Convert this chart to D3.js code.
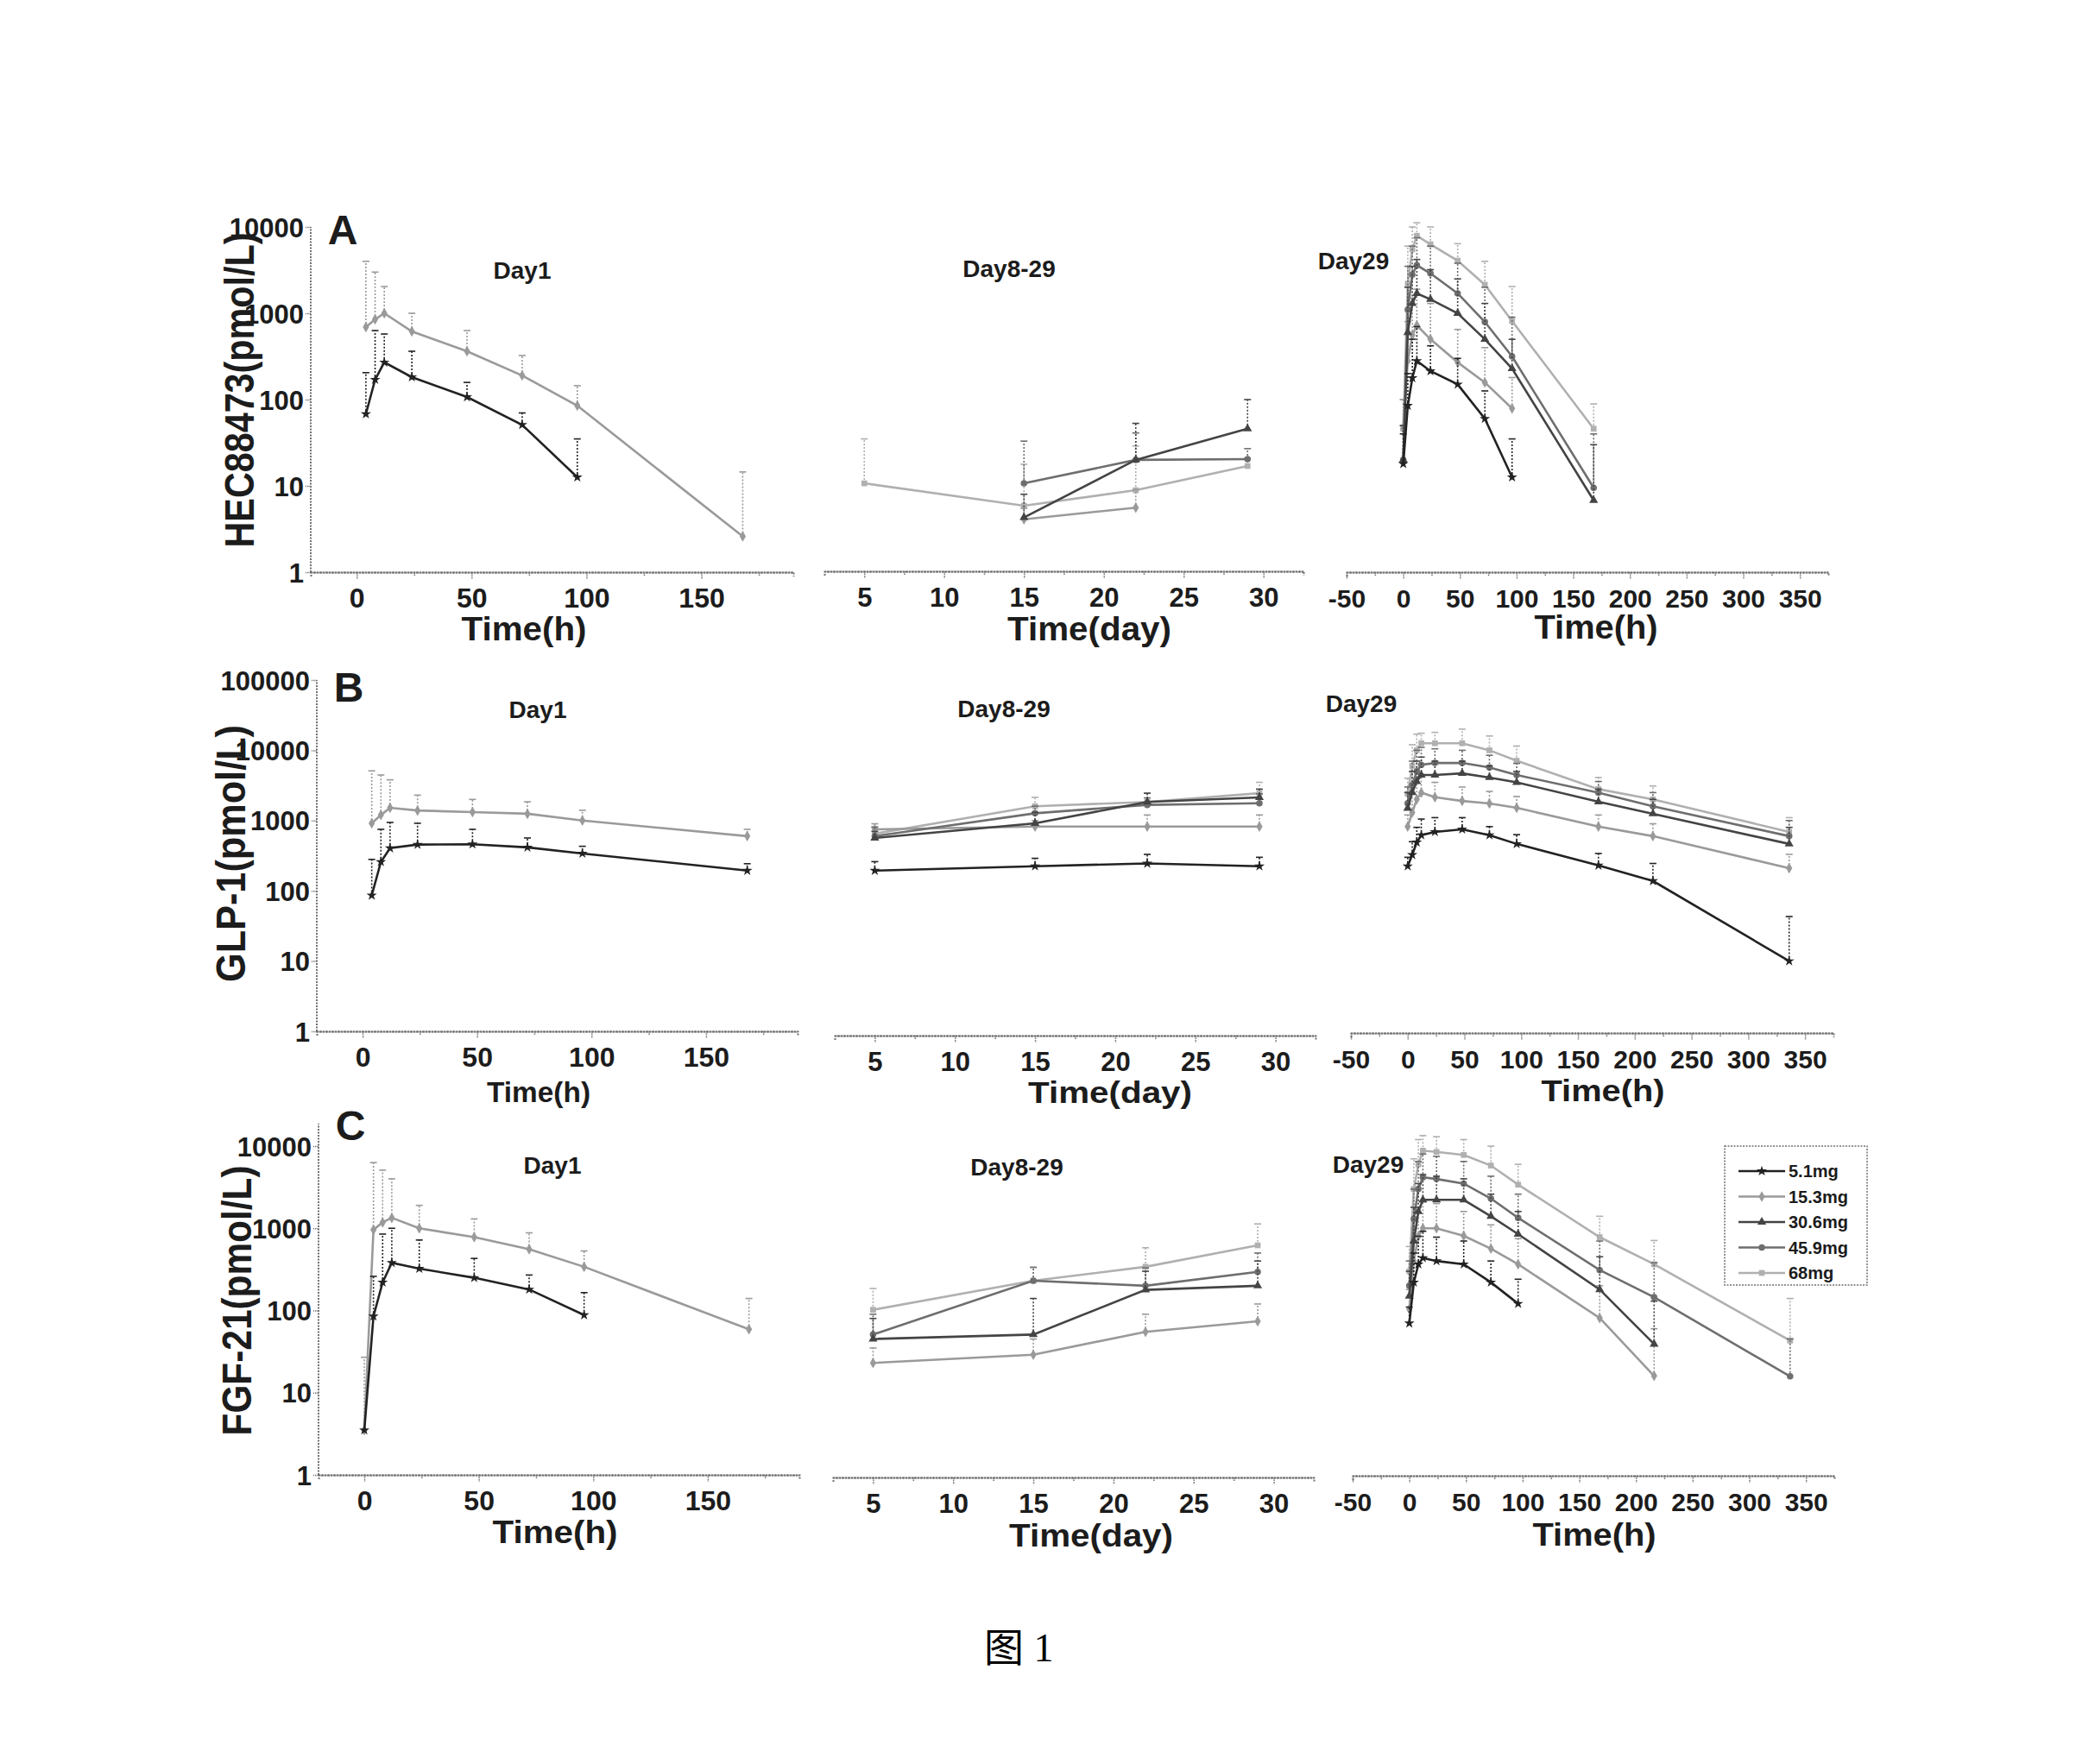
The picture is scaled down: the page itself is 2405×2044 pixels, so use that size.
<!DOCTYPE html>
<html>
<head>
<meta charset="utf-8">
<script src="https://cdn.jsdelivr.net/npm/d3@7"></script>
<style>
  body { margin: 0; background: #fff; }
  text { font-family: "Liberation Sans", Arial, sans-serif; font-weight: bold; }
</style>
</head>
<body>
<script>
// doses (legend) and sampling times
var doses = ["5.1mg", "15.3mg", "30.6mg", "45.9mg", "68mg"];
var day1TimesAB = [4, 8, 12, 24, 48, 72, 96, 168];
var day1TimesC = [0, 4, 8, 12, 24, 48, 72, 96, 168];
var midDays = [5, 15, 22, 29];
var day29TimesA = [0, 4, 8, 12, 24, 48, 72, 96, 168];
var day29TimesBC = [0, 4, 8, 12, 24, 48, 72, 96, 168, 216, 336];

// tick labels
var day1Ticks = [0, 50, 100, 150];
var midTicks = [5, 10, 15, 20, 25, 30];
var day29Ticks = [-50, 0, 50, 100, 150, 200, 250, 300, 350];
var yTicksA = [1, 10, 100, 1000, 10000];
var yTicksB = [1, 10, 100, 1000, 10000, 100000];
var yTicksC = [1, 10, 100, 1000, 10000];

// A: HEC88473 — one row per dose (5.1, 15.3, 30.6, 45.9, 68), null = not shown
var hecDay1Mean = [
  [68, 170, 270, 182, 107, 51, 12.6, null],
  [690, 850, 1000, 617, 363, 190, 85, 2.6],
  null, null, null];
var hecDay1Upper = [
  [205, 630, 575, 363, 158, 70, 35, null],
  [4000, 3000, 2040, 1000, 630, 324, 145, 14.5],
  null, null, null];
var hecMidMean = [
  null,
  [null, 4.1, 5.6, null],
  [null, 4.3, 20, 46],
  [null, 10.7, 20, 20.4],
  [10.7, 5.9, 8.9, 17]];
var hecMidUpper = [
  null,
  [null, 5.5, 9, null],
  [null, 8, 53, 100],
  [null, 33, 41, 27],
  [35, 17.8, 29, 21]];
var hecDay29Mean = [
  [18, 85, 178, 280, 214, 150, 60, 12.6, null],
  [46, 280, 560, 724, 500, 270, 158, 79, null],
  [20, 600, 1300, 1700, 1450, 1000, 500, 229, 6.8],
  [20, 1100, 2800, 3600, 2900, 1700, 794, 316, 9.5],
  [46, 2200, 5500, 7900, 6300, 4070, 2140, 813, 46]];
var hecDay29Upper = [
  [40, 200, 500, 700, 420, 300, 126, 35, null],
  [100, 800, 1500, 1900, 1300, 650, 400, 180, null],
  [50, 2000, 3500, 4200, 3200, 2500, 1300, 500, 30],
  [50, 3500, 6000, 7500, 6000, 3800, 2000, 900, 40],
  [100, 6000, 10000, 11200, 10000, 6400, 4000, 2040, 89]];

// B: GLP-1
var glpDay1Mean = [
  [86, 258, 405, 455, 460, 415, 340, 194],
  [915, 1200, 1520, 1390, 1320, 1250, 1000, 600],
  null, null, null];
var glpDay1Upper = [
  [280, 750, 940, 915, 750, 565, 430, 243],
  [5100, 4450, 3800, 2300, 2000, 1850, 1400, 750],
  null, null, null];
var glpMidMean = [
  [194, 224, 245, 224],
  [750, 820, 820, 820],
  [565, 915, 1840, 2130],
  [600, 1270, 1670, 1760],
  [650, 1600, 1840, 2450]];
var glpMidUpper = [
  [260, 290, 330, 300],
  [900, 1000, 1200, 1200],
  [700, 1300, 2450, 2800],
  [800, 1600, 2100, 2400],
  [820, 2140, 2450, 3500]];
var glpDay29Mean = [
  [224, 325, 490, 620, 690, 750, 620, 465, 230, 138, 10],
  [820, 1300, 2000, 2500, 2150, 1900, 1750, 1520, 820, 600, 210],
  [1500, 2500, 3600, 4450, 4450, 4700, 4100, 3500, 1850, 1250, 465],
  [1760, 3200, 5000, 6200, 6600, 6600, 5700, 4450, 2500, 1600, 600],
  [2400, 6000, 10000, 12600, 12600, 12600, 10000, 7100, 2800, 2000, 690]];
var glpDay29Upper = [
  [300, 500, 800, 1050, 1100, 1100, 820, 630, 340, 245, 43],
  [1200, 2500, 4000, 4500, 3500, 3000, 2600, 2200, 1200, 900, 330],
  [2500, 5000, 7000, 8000, 7000, 7000, 6000, 5000, 2800, 2000, 800],
  [3000, 7000, 10000, 11000, 10500, 10000, 8500, 6500, 3600, 2500, 1000],
  [4000, 12000, 17000, 17500, 18000, 20000, 16000, 11500, 4100, 3100, 1100]];

// C: FGF-21
var fgfDay1Mean = [
  [3.5, 85, 220, 380, 323, 250, 180, 88, null],
  [3.5, 960, 1180, 1340, 1000, 780, 556, 340, 59],
  null, null, null];
var fgfDay1Upper = [
  [3.5, 260, 850, 1000, 720, 430, 270, 165, null],
  [27, 6300, 5100, 4000, 1900, 1300, 880, 530, 140],
  null, null, null];
var fgfMidMean = [
  null,
  [23, 29, 55, 74],
  [45, 51, 178, 200],
  [51, 230, 200, 295],
  [102, 230, 340, 620]];
var fgfMidUpper = [
  null,
  [35, 45, 90, 120],
  [80, 140, 300, 400],
  [90, 335, 330, 500],
  [185, 335, 580, 1130]];
var fgfDay29Mean = [
  [70, 220, 365, 435, 400, 365, 220, 121, null, null, null],
  [104, 400, 800, 1000, 1000, 810, 565, 365, 81, 16, null],
  [150, 700, 1600, 2220, 2220, 2220, 1400, 850, 180, 39, null],
  [200, 1300, 3000, 4170, 3980, 3500, 2300, 1340, 310, 145, 15.8],
  [300, 3000, 6000, 8800, 8500, 7800, 5800, 3400, 780, 365, 43]];
var fgfDay29Upper = [
  [110, 500, 800, 920, 780, 700, 400, 240, null, null, null],
  [180, 1000, 1800, 2100, 2000, 1600, 1100, 750, 200, 60, null],
  [300, 1800, 3500, 4500, 4300, 4000, 2600, 1600, 450, 130, null],
  [400, 3000, 6500, 8000, 7500, 6500, 4300, 2600, 700, 380, 45],
  [600, 7000, 12000, 13400, 13000, 12000, 10000, 6000, 1400, 710, 140]];

// styles
var doseColors = ["#222222", "#9a9a9a", "#444444", "#6e6e6e", "#b0b0b0"];
var doseSymbols = [d3.symbolStar, d3.symbolDiamond, d3.symbolTriangle, d3.symbolCircle, d3.symbolSquare];
var axisColor = "#707070";
var textColor = "#1c1c1c";

var svg = d3.select("body")
  .append("svg")
    .attr("width", 2405)
    .attr("height", 2044);
svg.append("rect").attr("width", 2405).attr("height", 2044).attr("fill", "#fff");

var rows = [
  { letter: "A", letterPos: [397, 283], yTitle: "HEC88473(pmol/L)", yTitlePos: [277, 452, 365],
    yDomain: [1, 10000], yRange: [663, 263], yTicks: yTicksA,
    panels: [
      { title: "Day1", tPos: [605, 323], xt: "Time(h)", xtPos: [607, 742, 145, 38], xDomain: [-20, 190], xRange: [360, 919], axisY: 663,
        ticks: day1Ticks, minor: [25, 75, 125, 175], fs: 32, times: day1TimesAB, mean: hecDay1Mean, upper: hecDay1Upper, yAxis: true },
      { title: "Day8-29", tPos: [1169, 321], xt: "Time(day)", xtPos: [1262, 742, 190, 38], xDomain: [2.5, 32.5], xRange: [955, 1510], axisY: 662,
        ticks: midTicks, minor: [7.5, 12.5, 17.5, 22.5, 27.5], fs: 31, times: midDays, mean: hecMidMean, upper: hecMidUpper },
      { title: "Day29", tPos: [1568, 312], xt: "Time(h)", xtPos: [1849, 740, 143, 38], xDomain: [-50, 375], xRange: [1560, 2118], axisY: 663,
        ticks: day29Ticks, minor: [-25, 25, 75, 125, 175, 225, 275, 325], fs: 30, times: day29TimesA, mean: hecDay29Mean, upper: hecDay29Upper }
    ] },
  { letter: "B", letterPos: [404, 813], yTitle: "GLP-1(pmol/L)", yTitlePos: [267, 989, 298],
    yDomain: [1, 100000], yRange: [1195, 788], yTicks: yTicksB,
    panels: [
      { title: "Day1", tPos: [623, 832], xt: "Time(h)", xtPos: [624, 1277, 120, 33], xDomain: [-20, 190], xRange: [367, 924], axisY: 1195,
        ticks: day1Ticks, minor: [25, 75, 125, 175], fs: 32, times: day1TimesAB, mean: glpDay1Mean, upper: glpDay1Upper, yAxis: true },
      { title: "Day8-29", tPos: [1163, 831], xt: "Time(day)", xtPos: [1286, 1278, 190, 35], xDomain: [2.5, 32.5], xRange: [967, 1524], axisY: 1200,
        ticks: midTicks, minor: [7.5, 12.5, 17.5, 22.5, 27.5], fs: 31, times: midDays, mean: glpMidMean, upper: glpMidUpper },
      { title: "Day29", tPos: [1577, 825], xt: "Time(h)", xtPos: [1857, 1276, 143, 35], xDomain: [-50, 375], xRange: [1565, 2124], axisY: 1197,
        ticks: day29Ticks, minor: [-25, 25, 75, 125, 175, 225, 275, 325], fs: 30, times: day29TimesBC, mean: glpDay29Mean, upper: glpDay29Upper }
    ] },
  { letter: "C", letterPos: [406, 1321], yTitle: "FGF-21(pmol/L)", yTitlePos: [274, 1507, 313],
    yDomain: [1, 18750], yRange: [1709, 1302], yTicks: yTicksC,
    panels: [
      { title: "Day1", tPos: [640, 1360], xt: "Time(h)", xtPos: [643, 1788, 145, 37], xDomain: [-20, 190], xRange: [369, 926], axisY: 1709,
        ticks: day1Ticks, minor: [25, 75, 125, 175], fs: 32, times: day1TimesC, mean: fgfDay1Mean, upper: fgfDay1Upper, yAxis: true },
      { title: "Day8-29", tPos: [1178, 1362], xt: "Time(day)", xtPos: [1264, 1792, 190, 37], xDomain: [2.5, 32.5], xRange: [965, 1522], axisY: 1712,
        ticks: midTicks, minor: [7.5, 12.5, 17.5, 22.5, 27.5], fs: 31, times: midDays, mean: fgfMidMean, upper: fgfMidUpper },
      { title: "Day29", tPos: [1585, 1359], xt: "Time(h)", xtPos: [1847, 1791, 143, 37], xDomain: [-50, 375], xRange: [1567, 2125], axisY: 1710,
        ticks: day29Ticks, minor: [-25, 25, 75, 125, 175, 225, 275, 325], fs: 30, times: day29TimesBC, mean: fgfDay29Mean, upper: fgfDay29Upper }
    ] }
];

function styleAxis(ax) {
  ax.attr("color", axisColor);
  ax.select(".domain").attr("stroke-width", 2).attr("stroke-dasharray", "2,1.5");
  ax.selectAll(".tick line").attr("stroke-width", 1.5).attr("stroke-dasharray", "1.5,1");
}

function drawPanel(row, p) {
  var x = d3.scaleLinear().domain(p.xDomain).range(p.xRange);
  var y = d3.scaleLog().domain(row.yDomain).range(row.yRange);
  var g = svg.append("g");

  // minor x ticks (no labels)
  var mx = g.append("g")
    .attr("transform", "translate(0," + p.axisY + ")")
    .call(d3.axisBottom(x).tickValues(p.minor).tickSize(5).tickFormat(""));
  styleAxis(mx);
  mx.selectAll(".tick text").remove();

  // main x axis
  var ax = g.append("g")
    .attr("transform", "translate(0," + p.axisY + ")")
    .call(d3.axisBottom(x).tickValues(p.ticks).tickSize(8).tickSizeOuter(0)
      .tickFormat(function(d) { return String(d).replace("\u2212", "-"); }));
  styleAxis(ax);
  ax.selectAll(".tick text")
    .attr("y", 41).attr("dy", null)
    .attr("fill", textColor)
    .style("font-size", p.fs + "px")
    .style("font-family", "'Liberation Sans', Arial, sans-serif")
    .style("font-weight", "bold");

  // y axis only on Day1 panels
  if (p.yAxis) {
    var ay = g.append("g")
      .attr("transform", "translate(" + p.xRange[0] + ",0)")
      .call(d3.axisLeft(y).tickValues(row.yTicks).tickSize(6).tickPadding(2).tickSizeOuter(0)
        .tickFormat(d3.format("d")));
    ay.select(".domain").attr("d", "M0," + row.yRange[0] + "V" + row.yRange[1]);
    styleAxis(ay);
    ay.selectAll(".tick text")
      .attr("fill", textColor)
      .attr("dy", "0.36em")
      .style("font-size", "31px")
      .style("font-family", "'Liberation Sans', Arial, sans-serif")
      .style("font-weight", "bold");
  }

  // panel title
  g.append("text")
    .attr("x", p.tPos[0]).attr("y", p.tPos[1])
    .attr("text-anchor", "middle")
    .attr("fill", textColor)
    .style("font-size", "28px")
    .text(p.title);

  // x axis title
  g.append("text")
    .attr("x", p.xtPos[0]).attr("y", p.xtPos[1])
    .attr("text-anchor", "middle")
    .attr("fill", textColor)
    .attr("textLength", p.xtPos[2])
    .attr("lengthAdjust", "spacingAndGlyphs")
    .style("font-size", p.xtPos[3] + "px")
    .text(p.xt);

  // series, light ones first so the dark 5.1mg line sits on top
  var order = [4, 1, 3, 2, 0];
  order.forEach(function(i) {
    var m = p.mean[i];
    if (!m) return;
    var u = p.upper[i];
    var pts = p.times.map(function(t, k) { return { t: t, v: m[k], u: u ? u[k] : null }; })
      .filter(function(d) { return d.v != null; });
    var col = doseColors[i];

    // upper error bars (dotted)
    var eb = g.append("g").attr("stroke", col).attr("stroke-width", 1.6).attr("fill", "none");
    pts.forEach(function(d) {
      if (d.u == null || d.u <= d.v) return;
      eb.append("line")
        .attr("x1", x(d.t)).attr("x2", x(d.t))
        .attr("y1", y(d.v)).attr("y2", y(d.u))
        .attr("stroke-dasharray", "2,2");
      eb.append("line")
        .attr("x1", x(d.t) - 4).attr("x2", x(d.t) + 4)
        .attr("y1", y(d.u)).attr("y2", y(d.u));
    });

    // mean line
    g.append("path")
      .datum(pts)
      .attr("fill", "none")
      .attr("stroke", col)
      .attr("stroke-width", 2.6)
      .attr("d", d3.line()
        .x(function(d) { return x(d.t); })
        .y(function(d) { return y(d.v); }));

    // markers
    g.selectAll(null)
      .data(pts)
      .enter().append("path")
      .attr("transform", function(d) { return "translate(" + x(d.t) + "," + y(d.v) + ")"; })
      .attr("d", d3.symbol().type(doseSymbols[i]).size(45))
      .attr("fill", col);
  });
}

rows.forEach(function(row) {
  row.panels.forEach(function(p) { drawPanel(row, p); });

  // panel letter
  svg.append("text")
    .attr("x", row.letterPos[0]).attr("y", row.letterPos[1])
    .attr("text-anchor", "middle")
    .attr("fill", textColor)
    .style("font-size", "48px")
    .text(row.letter);

  // y axis title
  svg.append("text")
    .attr("transform", "translate(" + row.yTitlePos[0] + "," + row.yTitlePos[1] + ") rotate(-90)")
    .attr("text-anchor", "middle")
    .attr("dominant-baseline", "central")
    .attr("fill", textColor)
    .attr("textLength", row.yTitlePos[2])
    .attr("lengthAdjust", "spacingAndGlyphs")
    .style("font-size", "48px")
    .text(row.yTitle);
});

// legend (in panel C, Day29)
var legend = svg.append("g");
legend.append("rect")
  .attr("x", 1998).attr("y", 1328).attr("width", 165).attr("height", 161)
  .attr("fill", "#fff")
  .attr("stroke", axisColor).attr("stroke-width", 1.5).attr("stroke-dasharray", "2,1.5");
var legendY = d3.scalePoint().domain(doses).range([1357, 1475]);
doses.forEach(function(name, i) {
  var ly = legendY(name);
  legend.append("line")
    .attr("x1", 2014).attr("x2", 2068).attr("y1", ly).attr("y2", ly)
    .attr("stroke", doseColors[i]).attr("stroke-width", 2.6);
  legend.append("path")
    .attr("transform", "translate(2041," + ly + ")")
    .attr("d", d3.symbol().type(doseSymbols[i]).size(45))
    .attr("fill", doseColors[i]);
  legend.append("text")
    .attr("x", 2072).attr("y", ly + 7)
    .attr("fill", textColor)
    .style("font-size", "20px")
    .text(name);
});

// figure caption
svg.append("text")
  .attr("x", 1140).attr("y", 1925)
  .attr("fill", "#000")
  .style("font-family", "'Liberation Serif', 'Noto Sans CJK SC', serif")
  .style("font-weight", "normal")
  .style("font-size", "46px")
  .text("图 1");
</script>
</body>
</html>
